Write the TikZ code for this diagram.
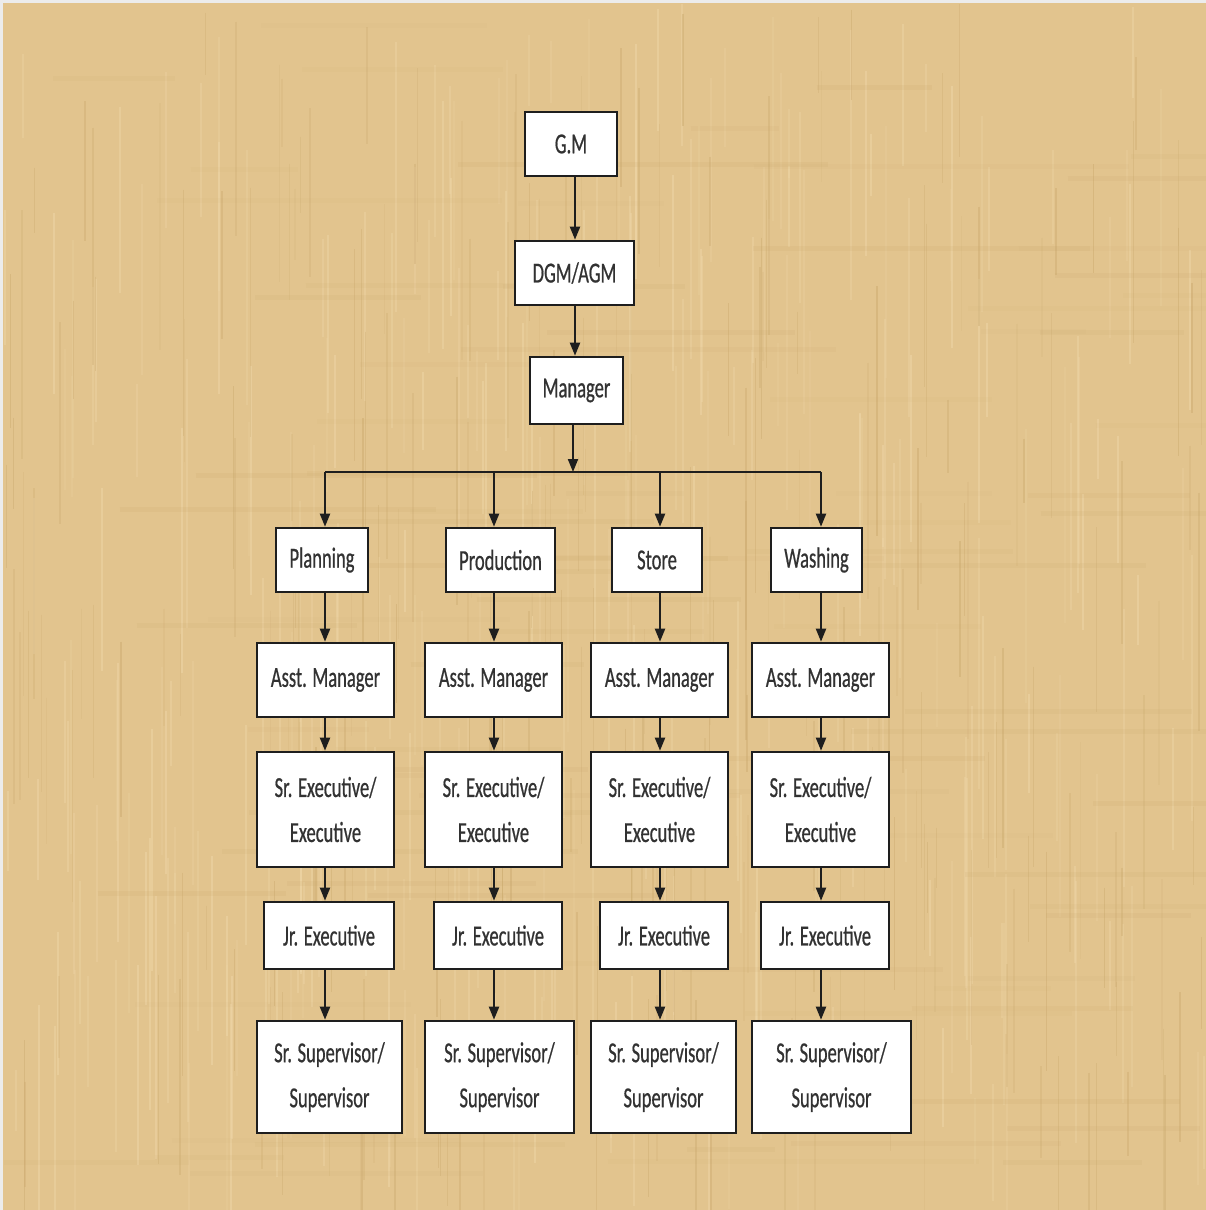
\documentclass[tikz,border=0pt]{standalone}
\usepackage{fontspec}
\setmainfont{Carlito}[FakeStretch=0.64,FakeBold=0.6]
\usetikzlibrary{arrows.meta}
\definecolor{paper}{RGB}{226,196,142}
\definecolor{paperlt}{RGB}{240,216,170}
\definecolor{paperdk}{RGB}{200,166,106}
\definecolor{ink}{RGB}{30,30,30}
\definecolor{txt}{RGB}{50,50,50}
\tikzset{
  box/.style={draw=ink, line width=2.6pt, fill=white, text=txt, align=center,
    inner sep=0pt, font=\fontsize{29}{45}\selectfont},
  arr/.style={draw=ink, line width=2pt, -{Triangle[length=13pt,width=10pt]}},
  ln/.style={draw=ink, line width=2pt},
}
\begin{document}
\begin{tikzpicture}[x=1pt,y=-1pt]
\useasboundingbox (0,0) rectangle (1206,1210);
% background
\fill[paper] (0,0) rectangle (1206,1210);
\pgfmathsetseed{7}
\foreach \i in {1,...,300}{
  \pgfmathsetmacro{\xx}{rnd*1206}
  \pgfmathsetmacro{\yy}{rnd*1100}
  \pgfmathsetmacro{\ll}{60+rnd*220}
  \pgfmathsetmacro{\op}{0.15+rnd*0.35}
  \draw[paperlt, line width=2pt, opacity=\op] (\xx,\yy) -- (\xx,\yy+\ll);
}
\foreach \i in {1,...,260}{
  \pgfmathsetmacro{\xx}{rnd*1206}
  \pgfmathsetmacro{\yy}{rnd*1100}
  \pgfmathsetmacro{\ll}{60+rnd*200}
  \pgfmathsetmacro{\op}{0.12+rnd*0.3}
  \draw[paperdk, line width=1.5pt, opacity=\op] (\xx,\yy) -- (\xx,\yy+\ll);
}
\foreach \i in {1,...,90}{
  \pgfmathsetmacro{\xx}{rnd*1150}
  \pgfmathsetmacro{\yy}{rnd*1210}
  \pgfmathsetmacro{\ll}{80+rnd*300}
  \pgfmathsetmacro{\op}{0.05+rnd*0.1}
  \draw[paperdk, line width=5pt, opacity=\op] (\xx,\yy) -- (\xx+\ll,\yy);
}
\fill[gray!15] (0,0) rectangle (1206,3);
\fill[gray!15] (0,0) rectangle (3,1210);

% top chain
\node[box, minimum width=92, minimum height=64] (gm) at (571,144) {G.M};
\node[box, minimum width=119, minimum height=64] (dgm) at (574.5,273) {DGM/AGM};
\node[box, minimum width=93, minimum height=67] (mgr) at (576.5,390.5) {Manager};
\coordinate (t) at (575,0);
\coordinate (busm) at (573,472);
\coordinate (bl) at (325,472);
\coordinate (br) at (821,472);
\draw[arr] (gm.south -| t) -- (dgm.north -| t);
\draw[arr] (dgm.south -| t) -- (mgr.north -| t);
\draw[arr] (mgr.south -| busm) -- (busm);
\draw[ln] (bl) -- (br);

% columns
\coordinate (c1) at (325,0);
\coordinate (c2) at (494,0);
\coordinate (c3) at (660,0);
\coordinate (c4) at (821,0);

% row 1
\node[box, minimum width=92, minimum height=64] (d1) at (322,560) {Planning};
\node[box, minimum width=109, minimum height=64] (d2) at (500.5,560) {Production};
\node[box, minimum width=90, minimum height=64] (d3) at (657,560) {Store};
\node[box, minimum width=91, minimum height=64] (d4) at (816.5,560) {Washing};
% row 2
\node[box, minimum width=137, minimum height=74] (a1) at (325.5,680) {Asst. Manager};
\node[box, minimum width=137, minimum height=74] (a2) at (493.5,680) {Asst. Manager};
\node[box, minimum width=137, minimum height=74] (a3) at (659.5,680) {Asst. Manager};
\node[box, minimum width=137, minimum height=74] (a4) at (820.5,680) {Asst. Manager};
% row 3
\node[box, minimum width=137, minimum height=115] (s1) at (325.5,809.5) {Sr. Executive/\\Executive};
\node[box, minimum width=137, minimum height=115] (s2) at (493.5,809.5) {Sr. Executive/\\Executive};
\node[box, minimum width=137, minimum height=115] (s3) at (659.5,809.5) {Sr. Executive/\\Executive};
\node[box, minimum width=137, minimum height=115] (s4) at (820.5,809.5) {Sr. Executive/\\Executive};
% row 4
\node[box, minimum width=130, minimum height=67] (j1) at (329,935.5) {Jr. Executive};
\node[box, minimum width=128, minimum height=67] (j2) at (498,935.5) {Jr. Executive};
\node[box, minimum width=128, minimum height=67] (j3) at (664,935.5) {Jr. Executive};
\node[box, minimum width=128, minimum height=67] (j4) at (825,935.5) {Jr. Executive};
% row 5
\node[box, minimum width=145, minimum height=112] (v1) at (329.5,1077) {Sr. Supervisor/\\Supervisor};
\node[box, minimum width=149, minimum height=112] (v2) at (499.5,1077) {Sr. Supervisor/\\Supervisor};
\node[box, minimum width=145, minimum height=112] (v3) at (663.5,1077) {Sr. Supervisor/\\Supervisor};
\node[box, minimum width=159, minimum height=112] (v4) at (831.5,1077) {Sr. Supervisor/\\Supervisor};

\foreach \k in {1,2,3,4}{
  \draw[arr] (busm -| c\k) -- (d\k.north -| c\k);
  \draw[arr] (d\k.south -| c\k) -- (a\k.north -| c\k);
  \draw[arr] (a\k.south -| c\k) -- (s\k.north -| c\k);
  \draw[arr] (s\k.south -| c\k) -- (j\k.north -| c\k);
  \draw[arr] (j\k.south -| c\k) -- (v\k.north -| c\k);
}
\end{tikzpicture}
\end{document}
